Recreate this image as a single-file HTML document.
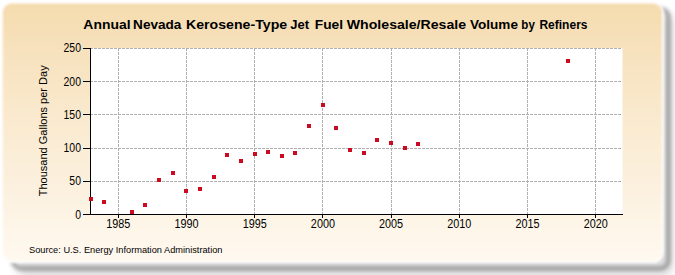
<!DOCTYPE html>
<html><head><meta charset="utf-8"><style>
html,body{margin:0;padding:0;background:#fff;}
body{width:675px;height:275px;overflow:hidden;}
svg{display:block;}
text{font-family:"Liberation Sans",sans-serif;}
</style></head><body>
<svg width="675" height="275" viewBox="0 0 675 275">
<defs>
<linearGradient id="bg" x1="0" y1="0" x2="0" y2="1">
<stop offset="0" stop-color="#F5DCAE"/>
<stop offset="0.17" stop-color="#F7E1BC"/>
<stop offset="0.5" stop-color="#FAEBD2"/>
<stop offset="0.72" stop-color="#FCF1DF"/>
<stop offset="1" stop-color="#FFF9F0"/>
</linearGradient>
<filter id="sh" x="-10%" y="-20%" width="120%" height="140%"><feGaussianBlur stdDeviation="2.0"/></filter>
<filter id="sh2" x="-10%" y="-20%" width="120%" height="140%"><feGaussianBlur stdDeviation="4"/></filter>
<filter id="cb" x="-10%" y="-20%" width="120%" height="140%"><feGaussianBlur stdDeviation="1.0"/></filter>
</defs>
<rect x="16" y="12" width="657.5" height="265" rx="12" fill="#dcdcdc" filter="url(#sh2)"/>
<rect x="13" y="9" width="655.5" height="259.5" rx="8" fill="none" stroke="#707070" stroke-width="2.6" filter="url(#sh)"/>
<rect x="1.8" y="2.4" width="661.2" height="259.7" rx="10" fill="url(#bg)" stroke="#fff" stroke-opacity="0.9" stroke-width="2" filter="url(#cb)"/>
<rect x="91" y="48" width="531.5" height="166" fill="#ffffff"/>
<g stroke="#b0b0b0" stroke-width="1" stroke-dasharray="3,1" shape-rendering="crispEdges"><line x1="90" y1="181.5" x2="622" y2="181.5"/><line x1="90" y1="148.5" x2="622" y2="148.5"/><line x1="90" y1="114.5" x2="622" y2="114.5"/><line x1="90" y1="81.5" x2="622" y2="81.5"/><line x1="90" y1="48.5" x2="622" y2="48.5"/><line x1="118.5" y1="48" x2="118.5" y2="214"/><line x1="186.5" y1="48" x2="186.5" y2="214"/><line x1="254.5" y1="48" x2="254.5" y2="214"/><line x1="322.5" y1="48" x2="322.5" y2="214"/><line x1="391.5" y1="48" x2="391.5" y2="214"/><line x1="459.5" y1="48" x2="459.5" y2="214"/><line x1="527.5" y1="48" x2="527.5" y2="214"/><line x1="595.5" y1="48" x2="595.5" y2="214"/></g>
<g stroke="#000" stroke-width="1" shape-rendering="crispEdges"><line x1="90.5" y1="48" x2="90.5" y2="215"/><line x1="90" y1="214.5" x2="623" y2="214.5"/><line x1="83" y1="214.5" x2="90" y2="214.5"/><line x1="83" y1="181.5" x2="90" y2="181.5"/><line x1="83" y1="148.5" x2="90" y2="148.5"/><line x1="83" y1="114.5" x2="90" y2="114.5"/><line x1="83" y1="81.5" x2="90" y2="81.5"/><line x1="83" y1="48.5" x2="90" y2="48.5"/><line x1="118.5" y1="214" x2="118.5" y2="218"/><line x1="186.5" y1="214" x2="186.5" y2="218"/><line x1="254.5" y1="214" x2="254.5" y2="218"/><line x1="322.5" y1="214" x2="322.5" y2="218"/><line x1="391.5" y1="214" x2="391.5" y2="218"/><line x1="459.5" y1="214" x2="459.5" y2="218"/><line x1="527.5" y1="214" x2="527.5" y2="218"/><line x1="595.5" y1="214" x2="595.5" y2="218"/></g>
<g fill="#CC0A22"><rect x="89" y="197" width="4" height="4"/><rect x="102" y="200" width="4" height="4"/><rect x="130" y="210" width="4" height="4"/><rect x="143" y="203" width="4" height="4"/><rect x="157" y="178" width="4" height="4"/><rect x="171" y="171" width="4" height="4"/><rect x="184" y="189" width="4" height="4"/><rect x="198" y="187" width="4" height="4"/><rect x="212" y="175" width="4" height="4"/><rect x="225" y="153" width="4" height="4"/><rect x="239" y="159" width="4" height="4"/><rect x="253" y="152" width="4" height="4"/><rect x="266" y="150" width="4" height="4"/><rect x="280" y="154" width="4" height="4"/><rect x="293" y="151" width="4" height="4"/><rect x="307" y="124" width="4" height="4"/><rect x="321" y="103" width="4" height="4"/><rect x="334" y="126" width="4" height="4"/><rect x="348" y="148" width="4" height="4"/><rect x="362" y="151" width="4" height="4"/><rect x="375" y="138" width="4" height="4"/><rect x="389" y="141" width="4" height="4"/><rect x="403" y="146" width="4" height="4"/><rect x="416" y="142" width="4" height="4"/><rect x="566" y="59" width="4" height="4"/></g>
<g font-size="12.3" fill="#000"><text x="81" y="219.4" text-anchor="end" textLength="5.81" lengthAdjust="spacingAndGlyphs">0</text><text x="81" y="185.1" text-anchor="end" textLength="11.63" lengthAdjust="spacingAndGlyphs">50</text><text x="81" y="151.9" text-anchor="end" textLength="17.44" lengthAdjust="spacingAndGlyphs">100</text><text x="81" y="119.3" text-anchor="end" textLength="17.44" lengthAdjust="spacingAndGlyphs">150</text><text x="81" y="85.5" text-anchor="end" textLength="17.44" lengthAdjust="spacingAndGlyphs">200</text><text x="81" y="52.3" text-anchor="end" textLength="17.44" lengthAdjust="spacingAndGlyphs">250</text><text x="118.3" y="228.2" text-anchor="middle" textLength="24.07" lengthAdjust="spacingAndGlyphs">1985</text><text x="186.5" y="228.2" text-anchor="middle" textLength="24.07" lengthAdjust="spacingAndGlyphs">1990</text><text x="254.7" y="228.2" text-anchor="middle" textLength="24.07" lengthAdjust="spacingAndGlyphs">1995</text><text x="322.9" y="228.2" text-anchor="middle" textLength="24.07" lengthAdjust="spacingAndGlyphs">2000</text><text x="391.1" y="228.2" text-anchor="middle" textLength="24.07" lengthAdjust="spacingAndGlyphs">2005</text><text x="459.3" y="228.2" text-anchor="middle" textLength="24.07" lengthAdjust="spacingAndGlyphs">2010</text><text x="527.5" y="228.2" text-anchor="middle" textLength="24.07" lengthAdjust="spacingAndGlyphs">2015</text><text x="595.7" y="228.2" text-anchor="middle" textLength="24.07" lengthAdjust="spacingAndGlyphs">2020</text></g>
<g font-size="13.65" font-weight="bold" fill="#000"><text x="83.38" y="29.0" textLength="47.18" lengthAdjust="spacingAndGlyphs">Annual</text><text x="133.10" y="29.0" textLength="48.33" lengthAdjust="spacingAndGlyphs">Nevada</text><text x="186.06" y="29.0" textLength="101.10" lengthAdjust="spacingAndGlyphs">Kerosene-Type</text><text x="290.25" y="29.0" textLength="18.78" lengthAdjust="spacingAndGlyphs">Jet</text><text x="314.79" y="29.0" textLength="28.26" lengthAdjust="spacingAndGlyphs">Fuel</text><text x="346.80" y="29.0" textLength="119.26" lengthAdjust="spacingAndGlyphs">Wholesale/Resale</text><text x="470.00" y="29.0" textLength="47.96" lengthAdjust="spacingAndGlyphs">Volume</text><text x="521.35" y="29.0" textLength="13.48" lengthAdjust="spacingAndGlyphs">by</text><text x="539.42" y="29.0" textLength="48.10" lengthAdjust="spacingAndGlyphs">Refiners</text></g>
<text transform="translate(46.8,130.8) rotate(-90)" text-anchor="middle" font-size="11" fill="#000">Thousand Gallons per Day</text>
<text x="29" y="252.7" font-size="9.5" fill="#000" textLength="193.5" lengthAdjust="spacingAndGlyphs">Source: U.S. Energy Information Administration</text>
</svg>
</body></html>
